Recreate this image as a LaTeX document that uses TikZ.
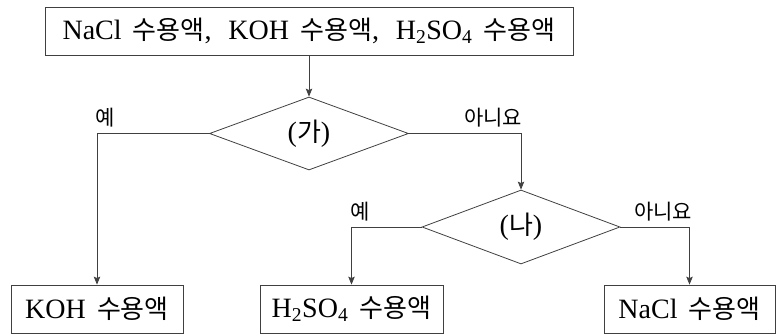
\documentclass[tikz,border=0pt]{standalone}
\usepackage{fontspec}
\setmainfont{Liberation Serif}
\newfontfamily\kr{Noto Sans CJK KR}
\usetikzlibrary{shapes.geometric,arrows.meta}
% Korean word "solution", preceded by a wide word space
\newcommand{\sy}{\hspace{0.4em}{\kr\fontsize{26}{28}\selectfont 수용액}}
\begin{document}
\begin{tikzpicture}[x=1pt,y=-1pt,
  line/.style={draw=black!75,line width=0.8pt},
  arr/.style={line,-{Stealth[length=8pt,width=6.5pt,inset=1.5pt]}},
  box/.style={line,rectangle,inner sep=0pt,minimum height=48pt,font=\fontsize{28}{30}\selectfont},
  choice/.style={line,diamond,inner sep=0pt,font=\fontsize{28}{30}\selectfont},
  lbl/.style={inner sep=0pt,font=\kr\fontsize{21}{23}\selectfont}]
\useasboundingbox (0,0) rectangle (781,334);

% start and decisions
\node[box,minimum width=528pt] (start) at (309,31)
  {NaCl\sy,\hspace{0.6em}KOH\sy,\hspace{0.6em}H\textsubscript{2}SO\textsubscript{4}\sy};
\node[choice,minimum width=199pt,minimum height=73pt,aspect=2.73] (ga) at (309,133.5)
  {({\kr\fontsize{26}{28}\selectfont 가})};
\node[choice,minimum width=198pt,minimum height=74pt,aspect=2.68] (na) at (521,227)
  {({\kr\fontsize{26}{28}\selectfont 나})};

% results
\node[box,minimum width=172pt] (koh) at (97,309) {KOH\sy};
\node[box,minimum width=183pt] (acid) at (351.5,309) {H\textsubscript{2}SO\textsubscript{4}\sy};
\node[box,minimum width=171pt] (salt) at (689.5,309) {NaCl\sy};

% connectors
\draw[arr] (start.south) -- (ga.north);
\draw[arr] (ga.west) -| (koh.north);
\draw[arr] (ga.east) -| (na.north);
\draw[arr] (na.west) -| (acid.north);
\draw[arr] (na.east) -| (salt.north);

% branch labels
\node[lbl] (y1) at (105,118) {예};
\node[lbl] (n1) at (493,118) {아니요};
\node[lbl] (y2) at (360,212) {예};
\node[lbl] (n2) at (663,212) {아니요};
\end{tikzpicture}
\end{document}
